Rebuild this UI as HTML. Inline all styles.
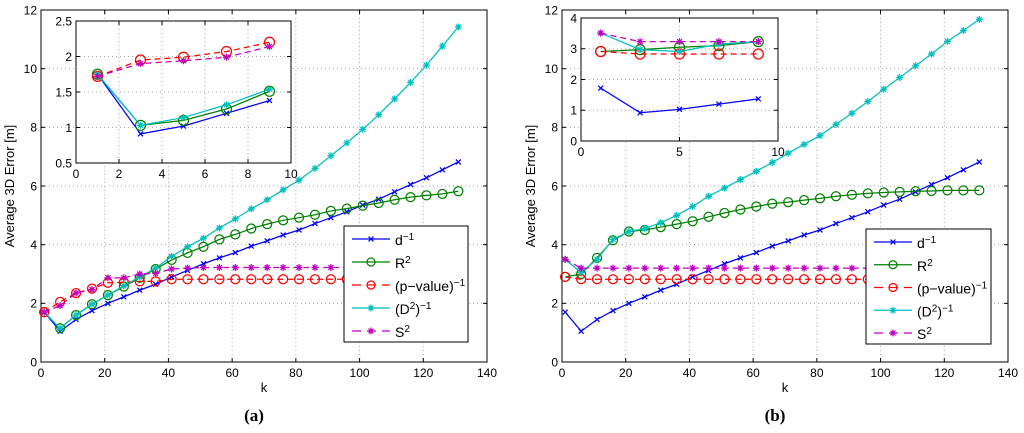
<!DOCTYPE html>
<html><head><meta charset="utf-8"><style>
html,body{margin:0;padding:0;background:#fff;width:1024px;height:433px;overflow:hidden}
svg{display:block}
text{font-family:"Liberation Sans",sans-serif;fill:#000}
</style></head><body>
<svg id="c" width="1024" height="433" xmlns="http://www.w3.org/2000/svg"></svg>
<script>
const kMain=[1,6,11,16,21,26,31,36,41,46,51,56,61,66,71,76,81,86,91,96,101,106,111,116,121,126,131];
const kInset=[1,3,5,7,9];
const aD=[1.7,1.05,1.45,1.75,2.0,2.22,2.45,2.65,2.9,3.12,3.35,3.55,3.73,3.95,4.13,4.33,4.5,4.72,4.92,5.12,5.35,5.55,5.8,6.05,6.28,6.55,6.82];
const aR=[1.7,1.15,1.6,1.97,2.28,2.57,2.87,3.17,3.48,3.72,3.93,4.18,4.35,4.55,4.7,4.83,4.92,5.02,5.15,5.23,5.33,5.42,5.53,5.62,5.68,5.73,5.82];
const aP=[1.7,2.05,2.35,2.5,2.7,2.72,2.75,2.75,2.82,2.82,2.82,2.82,2.82,2.82,2.82,2.82,2.82,2.82,2.82,2.82,2.82,2.82,2.82,2.82,2.82,2.82,2.82];
const aQ=[1.7,1.15,1.6,1.97,2.28,2.6,2.9,3.2,3.6,3.93,4.22,4.57,4.88,5.22,5.53,5.87,6.2,6.6,7.03,7.47,7.93,8.43,8.97,9.53,10.12,10.77,11.42];
const aS=[1.7,1.92,2.35,2.47,2.87,2.87,3.0,3.02,3.17,3.2,3.22,3.22,3.22,3.22,3.22,3.22,3.22,3.22,3.22,3.22,3.22,3.22,3.22,3.22,3.22,3.22,3.22];
const aiD=[1.75,0.91,1.02,1.2,1.38], aiR=[1.75,1.03,1.1,1.26,1.51], aiP=[1.72,1.95,1.99,2.07,2.2], aiQ=[1.75,1.03,1.14,1.32,1.54], aiS=[1.72,1.9,1.94,1.99,2.14];
const bD=[1.7,1.05,1.45,1.75,2.0,2.22,2.45,2.65,2.9,3.12,3.35,3.55,3.73,3.95,4.13,4.33,4.5,4.72,4.92,5.12,5.35,5.55,5.8,6.05,6.28,6.55,6.82];
const bR=[2.9,3.0,3.55,4.15,4.45,4.5,4.6,4.7,4.8,4.95,5.08,5.2,5.3,5.4,5.45,5.52,5.58,5.65,5.7,5.75,5.78,5.8,5.82,5.83,5.85,5.85,5.85];
const bP=[2.9,2.82,2.82,2.82,2.82,2.82,2.82,2.82,2.82,2.82,2.82,2.82,2.82,2.82,2.82,2.82,2.82,2.82,2.82,2.82,2.82,2.82,2.82,2.82,2.82,2.82,2.82];
const bQ=[3.5,3.05,3.5,4.18,4.45,4.55,4.75,5.0,5.3,5.65,5.93,6.22,6.5,6.8,7.12,7.42,7.72,8.1,8.48,8.88,9.3,9.7,10.1,10.5,10.93,11.3,11.68];
const bS=[3.5,3.2,3.2,3.2,3.2,3.2,3.2,3.2,3.2,3.2,3.2,3.2,3.2,3.2,3.2,3.2,3.2,3.2,3.2,3.2,3.2,3.2,3.2,3.2,3.2,3.2,3.2];
const biD=[1.72,0.92,1.03,1.2,1.37], biR=[2.91,2.97,3.05,3.1,3.23], biP=[2.91,2.83,2.83,2.83,2.83], biQ=[3.51,2.97,2.91,3.15,3.23], biS=[3.51,3.23,3.23,3.23,3.23];
const mainXTicks=[0,20,40,60,80,100,120,140], mainYTicks=[0,2,4,6,8,10,12];
const insAX=[0,2,4,6,8,10], insAY=[0.5,1,1.5,2,2.5], insBX=[0,5,10], insBY=[0,1,2,3,4];
const legendLabels=['d<tspan dy="-5" font-size="10">−1</tspan>','R<tspan dy="-5" font-size="10">2</tspan>','(p−value)<tspan dy="-5" font-size="10">−1</tspan>','(D<tspan dy="-5" font-size="10">2</tspan><tspan dy="5">)</tspan><tspan dy="-5" font-size="10">−1</tspan>','S<tspan dy="-5" font-size="10">2</tspan>'];

const svg=document.getElementById('c');const NS='http://www.w3.org/2000/svg';
function mk(t,a,p){const e=document.createElementNS(NS,t);for(const k in a)e.setAttribute(k,a[k]);(p||svg).appendChild(e);return e;}
const styles=[{c:'#0000ff',m:'x',d:''},{c:'#008000',m:'o',d:''},{c:'#ff0000',m:'o',d:'6,4'},{c:'#00bfbf',m:'*',d:''},{c:'#bf00bf',m:'*',d:'6,4'}];
const LW=1.25;
function marker(g,m,x,y,c,s){
  if(m==='o'){mk('circle',{cx:x,cy:y,r:s,fill:'none',stroke:c,'stroke-width':LW},g);}
  else if(m==='x'){mk('path',{d:`M${x-s*.7} ${y-s*.7}L${x+s*.7} ${y+s*.7}M${x-s*.7} ${y+s*.7}L${x+s*.7} ${y-s*.7}`,stroke:c,'stroke-width':LW},g);}
  else{mk('path',{d:`M${x-s} ${y}H${x+s}M${x} ${y-s}V${y+s}M${x-s*.7} ${y-s*.7}L${x+s*.7} ${y+s*.7}M${x-s*.7} ${y+s*.7}L${x+s*.7} ${y-s*.7}`,stroke:c,'stroke-width':LW},g);}
}
function axes(box,xr,yr,xt,yt,name,fs){
  const sx=v=>box.x0+(v-xr[0])/(xr[1]-xr[0])*(box.x1-box.x0);
  const sy=v=>box.y1-(v-yr[0])/(yr[1]-yr[0])*(box.y1-box.y0);
  const g=mk('g',{});
  
  
  mk('rect',{x:box.x0,y:box.y0,width:box.x1-box.x0,height:box.y1-box.y0,fill:'#fff'},g);
  xt.forEach(v=>{const x=sx(v);if(v>xr[0]&&v<xr[1])mk('line',{x1:x,x2:x,y1:box.y0,y2:box.y1,stroke:'#aaa','stroke-dasharray':'1,3','stroke-width':1},g);
    mk('line',{x1:x,x2:x,y1:box.y1,y2:box.y1-4,stroke:'#000'},g);mk('line',{x1:x,x2:x,y1:box.y0,y2:box.y0+4,stroke:'#000'},g);
    const t=mk('text',{x:x,y:box.y1+fs+3,'font-size':fs,'text-anchor':'middle'},g);t.textContent=v;});
  yt.forEach(v=>{const y=sy(v);if(v>yr[0]&&v<yr[1])mk('line',{x1:box.x0,x2:box.x1,y1:y,y2:y,stroke:'#aaa','stroke-dasharray':'1,3','stroke-width':1},g);
    mk('line',{x1:box.x0,x2:box.x0+4,y1:y,y2:y,stroke:'#000'},g);mk('line',{x1:box.x1,x2:box.x1-4,y1:y,y2:y,stroke:'#000'},g);
    const t=mk('text',{x:box.x0-4,y:y+fs*0.36,'font-size':fs,'text-anchor':'end'},g);t.textContent=v;});
  mk('rect',{x:box.x0,y:box.y0,width:box.x1-box.x0,height:box.y1-box.y0,fill:'none',stroke:'#000','stroke-width':1},g);
  return {sx,sy,g};
}
function series(ax,ks,vals,st,name,ms){
  const g=mk('g',{});
  
  
  const pts=ks.map((k,i)=>ax.sx(k)+','+ax.sy(vals[i])).join(' ');
  const a={points:pts,fill:'none',stroke:st.c,'stroke-width':LW};if(st.d)a['stroke-dasharray']=st.d;
  mk('polyline',a,g);
  ks.forEach((k,i)=>marker(g,st.m,ax.sx(k),ax.sy(vals[i]),st.c,ms));
}
function legend(x0,y0,x1,y1,name){
  const g=mk('g',{});
  
  
  mk('rect',{x:x0,y:y0,width:x1-x0,height:y1-y0,fill:'#fff',stroke:'#000'},g);
  const step=(y1-y0-24)/4;
  styles.forEach((st,i)=>{const y=y0+13+i*step;
    const a={x1:x0+8,x2:x0+46,y1:y,y2:y,stroke:st.c,'stroke-width':LW};if(st.d)a['stroke-dasharray']='9,6';mk('line',a,g);
    marker(g,st.m,x0+27,y,st.c,st.m==='o'?4:3.5);
    const t=mk('text',{x:x0+51,y:y+6,'font-size':14},g);t.innerHTML=legendLabels[i];});
}
function panel(ox,main,ins,insBox,insXr,insYr,insXT,insYT,leg,lab,tag){
  const ax=axes({x0:ox,x1:ox+446,y0:10,y1:362},[0,140],[0,12],mainXTicks,mainYTicks,'main-axes-'+tag,12);
  const names=['d-inv','r2','p-value-inv','d2-inv','s2'];
  main.forEach((v,i)=>series(ax,kMain,v,styles[i],'series-'+names[i]+'-'+tag,i===1||i===2?4.5:3.5));
  const yl=mk('text',{x:0,y:0,'font-size':13,'text-anchor':'middle',transform:`translate(${ox-27},186) rotate(-90)`});
  
  
  yl.textContent='Average 3D Error [m]';
  const xl=mk('text',{x:ox+223,y:392,'font-size':13,'text-anchor':'middle'});
  
  
  xl.textContent='k';
  const ia=axes(insBox,insXr,insYr,insXT,insYT,'inset-axes-'+tag,12);
  ins.forEach((v,i)=>series(ia,kInset,v,styles[i],'inset-'+names[i]+'-'+tag,i===1||i===2?5:3.5));
  legend(leg[0],leg[1],leg[2],leg[3],'legend-'+tag);
  const cap=mk('text',{x:ox+213,y:421,'font-size':17,'font-weight':'bold','text-anchor':'middle',style:'font-family:"Liberation Serif",serif'});
  
  
  cap.textContent=lab;
}
panel(41,[aD,aR,aP,aQ,aS],[aiD,aiR,aiP,aiQ,aiS],{x0:76,x1:291,y0:21,y1:163},[0,10],[0.5,2.5],insAX,insAY,[344,226,468,342],'(a)','a');
panel(562,[bD,bR,bP,bQ,bS],[biD,biR,biP,biQ,biS],{x0:581,x1:778,y0:18,y1:141},[0,10],[0,4],insBX,insBY,[866,229,991,344],'(b)','b');
</script>
</body></html>
